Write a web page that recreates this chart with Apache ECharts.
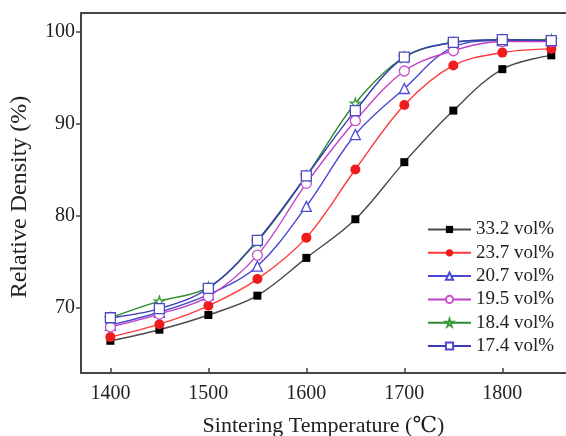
<!DOCTYPE html>
<html>
<head>
<meta charset="utf-8">
<script src="https://cdn.jsdelivr.net/npm/echarts@6/dist/echarts.min.js"></script>
<style>
  html, body { margin: 0; padding: 0; background: #fff; }
  #chart { width: 566px; height: 436px; }
</style>
</head>
<body>
<div id="chart"></div>
<script>
// Sintering temperature (°C)
const temperatures = [1400, 1450, 1500, 1550, 1600, 1650, 1700, 1750, 1800, 1850];

// Relative density (%) for each solid loading
const d332 = [66.4, 67.6, 69.2, 71.3, 75.4, 79.6, 85.8, 91.4, 95.9, 97.4];
const d237 = [66.8, 68.2, 70.2, 73.1, 77.6, 85.0, 92.0, 96.3, 97.7, 98.1];
const d207 = [68.1, 69.5, 71.4, 74.5, 81.0, 88.8, 93.8, 98.3, 99.0, 99.0];
const d195 = [67.9, 69.3, 71.2, 75.7, 83.5, 90.3, 95.7, 97.9, 98.9, 98.9];
const d184 = [68.9, 70.7, 72.2, 77.2, 84.3, 92.2, 97.2, 98.8, 99.1, 99.1];
const d174 = [68.9, 69.9, 72.1, 77.3, 84.3, 91.4, 97.2, 98.8, 99.1, 99.0];

const seriesNames = ['33.2 vol%', '23.7 vol%', '20.7 vol%', '19.5 vol%', '18.4 vol%', '17.4 vol%'];
const xTicks = [1400, 1500, 1600, 1700, 1800];
const yTicks = [70, 80, 90, 100];

const STAR = 'path://M50,0 L61,35 L98,35 L68,57 L79,91 L50,70 L21,91 L32,57 L2,35 L39,35 Z';
const FONT = '"Liberation Serif", "DejaVu Serif", serif';
const AXIS = '#444';

function pairs(vals) {
  return temperatures.map((t, i) => [t, vals[i]]);
}

function makeSeries(name, vals, lineColor, markColor, symbol, size, hollow) {
  return {
    name: name,
    type: 'line',
    data: pairs(vals),
    smooth: 0.35,
    symbol: symbol,
    symbolSize: size,
    showAllSymbol: true,
    lineStyle: { color: lineColor, width: 1.4 },
    itemStyle: hollow
      ? { color: '#fff', borderColor: markColor, borderWidth: 1.3 }
      : { color: markColor, borderColor: markColor, borderWidth: 0 },
    emphasis: { disabled: true },
    z: 2
  };
}

const chart = echarts.init(document.getElementById('chart'), null, { renderer: 'canvas' });

chart.setOption({
  animation: false,
  backgroundColor: '#fff',
  grid: { left: 81, top: 13, right: 0, bottom: 63, containLabel: false, outerBoundsMode: 'none' },
  legend: {
    orient: 'vertical',
    left: 422,
    top: 215,
    itemWidth: 43,
    itemHeight: 9,
    itemGap: 4.3,
    textStyle: { fontFamily: FONT, fontSize: 19, color: '#222' },
    data: seriesNames
  },
  xAxis: [{
    type: 'value',
    min: 1370,
    max: 1865,
    name: 'Sintering Temperature (\u2103)',
    nameLocation: 'middle',
    nameGap: 42,
    nameTextStyle: { fontFamily: FONT, fontSize: 22, color: '#222' },
    axisLine: { show: true, lineStyle: { color: AXIS, width: 2 } },
    axisTick: { show: true, inside: true, length: 5, customValues: xTicks, lineStyle: { color: AXIS, width: 1.5 } },
    axisLabel: { customValues: xTicks, margin: 11, fontFamily: FONT, fontSize: 20, color: '#222', formatter: v => String(v) },
    splitLine: { show: false }
  }, {
    type: 'value',
    position: 'top',
    min: 1370,
    max: 1865,
    axisLine: { show: true, onZero: false, lineStyle: { color: AXIS, width: 2 } },
    axisTick: { show: false },
    axisLabel: { show: false },
    splitLine: { show: false }
  }],
  yAxis: [{
    type: 'value',
    min: 62.9,
    max: 102,
    name: 'Relative Density (%)',
    nameLocation: 'middle',
    nameGap: 49,
    nameRotate: 90,
    nameTextStyle: { fontFamily: FONT, fontSize: 24, color: '#222', padding: [0, 8, 0, 0] },
    axisLine: { show: true, lineStyle: { color: AXIS, width: 2 } },
    axisTick: { show: true, inside: false, length: 5, customValues: yTicks, lineStyle: { color: AXIS, width: 1.5 } },
    axisLabel: { customValues: yTicks, margin: 6, fontFamily: FONT, fontSize: 20, color: '#222', formatter: v => String(v) },
    splitLine: { show: false }
  }],
  series: [
    makeSeries(seriesNames[0], d332, '#4a4a4a', '#000000', 'rect', 8, false),
    makeSeries(seriesNames[1], d237, '#ff3a3a', '#ee1c1c', 'circle', 10, false),
    makeSeries(seriesNames[2], d207, '#4848d0', '#4a4ad8', 'triangle', 10, true),
    makeSeries(seriesNames[3], d195, '#c040c8', '#c850d0', 'circle', 10, true),
    makeSeries(seriesNames[4], d184, '#2e8b2e', '#3a9a3a', STAR, 10, true),
    makeSeries(seriesNames[5], d174, '#3a3ab8', '#4a4ac8', 'rect', 10, true)
  ]
});
</script>
</body>
</html>
